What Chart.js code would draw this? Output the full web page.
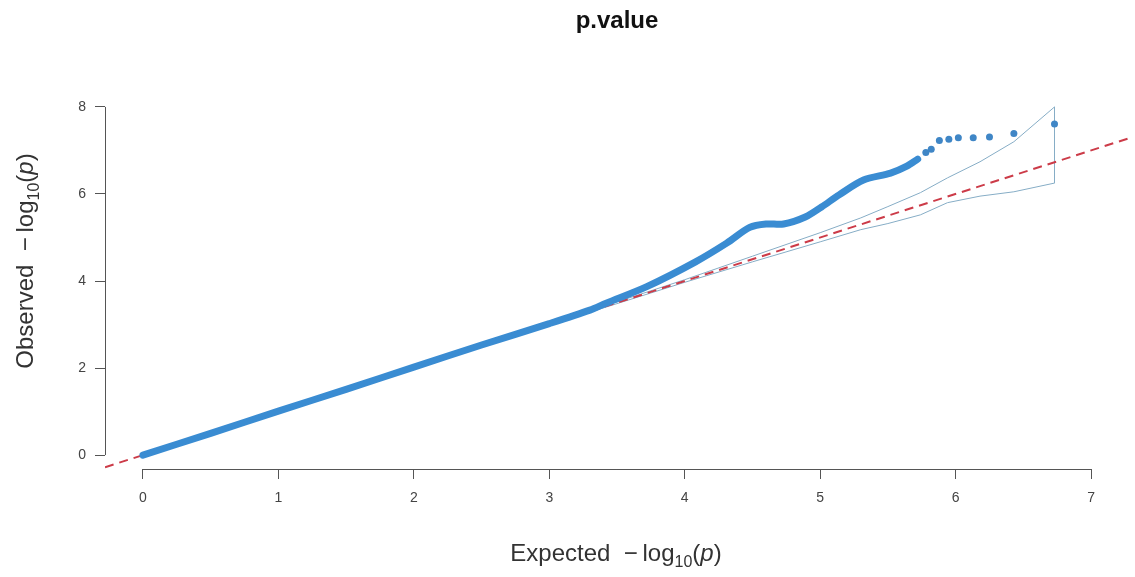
<!DOCTYPE html>
<html>
<head>
<meta charset="utf-8">
<script src="https://cdn.jsdelivr.net/npm/chart.js@4.4.1/dist/chart.umd.min.js"></script>
<style>body{margin:0;background:#fff}</style>
</head>
<body>
<canvas id="qq" width="1135" height="577"></canvas>
<script>
// valeurs (qq plot p.value)
const expectedDense = [0, 0.5, 1, 1.5, 2, 2.5, 3, 3.3, 3.42, 3.72, 4.08, 4.31, 4.48, 4.6, 4.73, 4.89, 5.01, 5.14, 5.32, 5.52, 5.64, 5.72];
const observedDense = [0, 0.5, 1.01, 1.51, 2.02, 2.53, 3.02, 3.33, 3.49, 3.87, 4.44, 4.87, 5.23, 5.31, 5.31, 5.47, 5.70, 5.98, 6.32, 6.48, 6.64, 6.80];
const expectedTail = [5.78, 5.82, 5.88, 5.95, 6.02, 6.13, 6.25, 6.43, 6.73];
const observedTail = [6.95, 7.03, 7.23, 7.26, 7.29, 7.29, 7.31, 7.39, 7.61];
const bandX = [0, 3, 4, 4.5, 5, 5.3, 5.5, 5.74, 5.94, 6.18, 6.43, 6.73];
const bandUpper = [0, 3.01, 4.03, 4.57, 5.11, 5.45, 5.71, 6.03, 6.37, 6.74, 7.2, 8.0];
const bandLower = [0, 2.99, 3.97, 4.44, 4.9, 5.18, 5.32, 5.52, 5.8, 5.95, 6.05, 6.25];
const refLine = [-0.28, 7.28];
const xTicks = [0, 1, 2, 3, 4, 5, 6, 7];
const yTicks = [0, 2, 4, 6, 8];
const titre = 'p.value';

const police = "'Liberation Sans', Arial, sans-serif";

function paires(xs, ys) {
    return xs.map((v, i) => ({x: v, y: ys[i]}));
}

// bande : haut de gauche a droite, puis bas de droite a gauche
let bande = paires(bandX, bandUpper).concat(paires(bandX, bandLower).reverse());

function titreMath(ctx, mot, cx, cy, angle) {
    let morceaux = [
        {t: mot + '  ', f: '24px ' + police, dy: 0},
        {t: '\u2212\u2009', f: '24px ' + police, dy: 0},
        {t: 'log', f: '24px ' + police, dy: 0},
        {t: '10', f: '16px ' + police, dy: 6},
        {t: '(', f: '24px ' + police, dy: 0},
        {t: 'p', f: 'italic 24px ' + police, dy: 0},
        {t: ')', f: '24px ' + police, dy: 0}
    ];
    let total = 0;
    for (let m of morceaux) {
        ctx.font = m.f;
        m.w = ctx.measureText(m.t).width;
        total += m.w;
    }
    ctx.save();
    ctx.translate(cx, cy);
    ctx.rotate(angle);
    ctx.fillStyle = '#333';
    ctx.textBaseline = 'alphabetic';
    let x = -total / 2;
    for (let m of morceaux) {
        ctx.font = m.f;
        ctx.fillText(m.t, x, m.dy);
        x += m.w;
    }
    ctx.restore();
}

const axesR = {
    id: 'axesR',
    afterDraw(chart) {
        const {ctx, chartArea, scales} = chart;
        ctx.save();
        ctx.strokeStyle = '#555';
        ctx.lineWidth = 1;
        ctx.beginPath();
        ctx.moveTo(scales.x.getPixelForValue(xTicks[0]), chartArea.bottom + 0.5);
        ctx.lineTo(scales.x.getPixelForValue(xTicks[xTicks.length - 1]), chartArea.bottom + 0.5);
        ctx.moveTo(chartArea.left + 0.5, scales.y.getPixelForValue(yTicks[0]));
        ctx.lineTo(chartArea.left + 0.5, scales.y.getPixelForValue(yTicks[yTicks.length - 1]));
        ctx.stroke();
        // titre centre sur la zone du graphique, comme dans R
        ctx.fillStyle = '#111';
        ctx.font = 'bold 24px ' + police;
        ctx.textAlign = 'center';
        ctx.textBaseline = 'alphabetic';
        ctx.fillText(titre, (chartArea.left + chartArea.right) / 2, 28);
        ctx.restore();
        titreMath(ctx, 'Expected', 616, 561, 0);
        titreMath(ctx, 'Observed', 33, 261, -Math.PI / 2);
    }
};

let graphique = new Chart(document.getElementById('qq'), {
    type: 'scatter',
    data: {
        datasets: [
            {
                label: 'observed',
                data: paires(expectedDense, observedDense),
                showLine: true,
                borderColor: '#3a8cd2',
                borderWidth: 7,
                borderCapStyle: 'round',
                borderJoinStyle: 'round',
                tension: 0.3,
                pointRadius: 0
            },
            {
                label: 'tail',
                data: paires(expectedTail, observedTail),
                showLine: false,
                pointRadius: 3.5,
                pointBackgroundColor: '#3f86c6',
                pointBorderWidth: 0
            },
            {
                label: 'y=x',
                data: paires(refLine, refLine),
                showLine: true,
                borderColor: '#cc3b48',
                borderWidth: 2,
                borderDash: [9, 6],
                pointRadius: 0
            },
            {
                label: 'band',
                data: bande,
                showLine: true,
                borderColor: '#86adc6',
                borderWidth: 1,
                tension: 0,
                pointRadius: 0
            }
        ]
    },
    options: {
        responsive: false,
        animation: false,
        devicePixelRatio: 1,
        layout: {padding: {left: 0, right: 6, top: 93, bottom: 0}},
        plugins: {
            legend: {display: false},
            tooltip: {enabled: false},
            title: {display: false}
        },
        scales: {
            x: {
                type: 'linear',
                min: -0.28,
                max: 7.28,
                afterBuildTicks: s => { s.ticks = xTicks.map(v => ({value: v})); },
                afterFit: s => { s.height = 108; },
                grid: {drawOnChartArea: false, drawTicks: true, tickLength: 10, color: '#555'},
                border: {display: false},
                ticks: {color: '#444', font: {family: police, size: 14}, padding: 11, maxRotation: 0}
            },
            y: {
                type: 'linear',
                min: -0.32,
                max: 8.32,
                afterBuildTicks: s => { s.ticks = yTicks.map(v => ({value: v})); },
                afterFit: s => { s.width = 105; },
                grid: {drawOnChartArea: false, drawTicks: true, tickLength: 10, color: '#555'},
                border: {display: false},
                ticks: {color: '#444', font: {family: police, size: 14}, padding: 9}
            }
        }
    },
    plugins: [axesR]
});
</script>
</body>
</html>
